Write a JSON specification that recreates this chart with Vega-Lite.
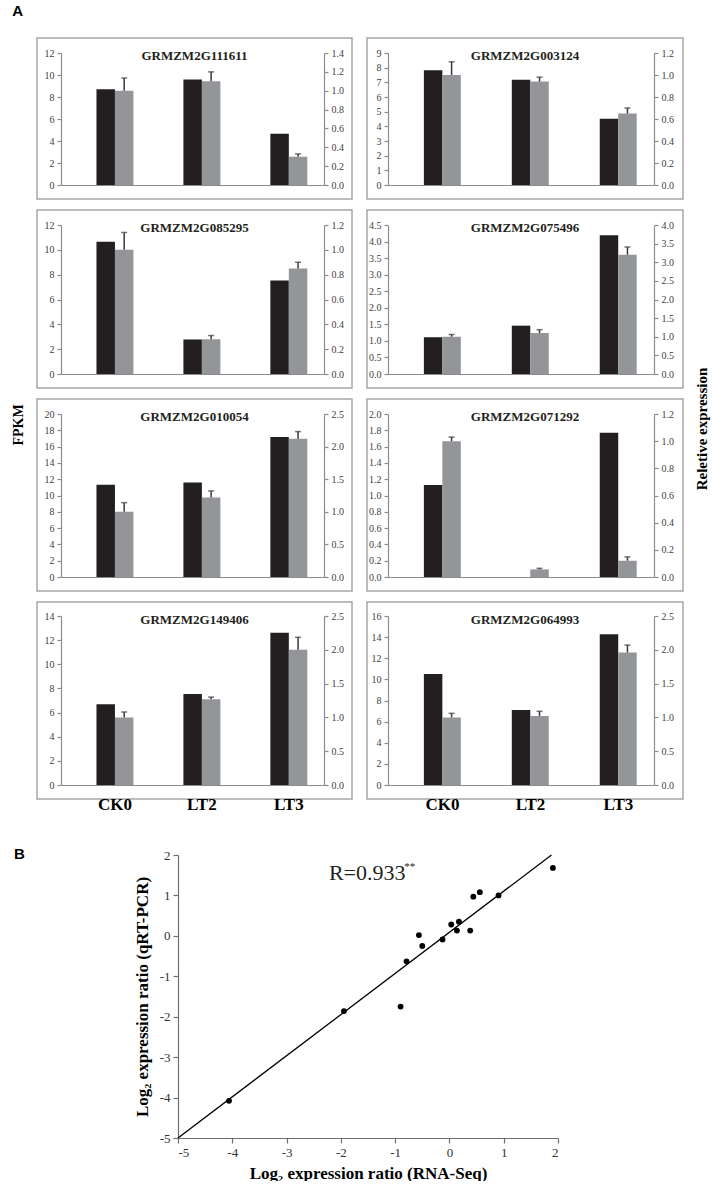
{
"$schema":"https://vega.github.io/schema/vega-lite/v6.json",
"background":"white",
"padding":{"left":12,"top":4,"right":0,"bottom":0},
"config":{"view":{"stroke":null},"font":"Liberation Serif",
"axis":{"domainColor":"#8c8c8c","tickColor":"#8c8c8c","tickSize":4,"labelColor":"#404040","labelFont":"Liberation Serif","labelFontSize":10,"grid":false,"titleFont":"Liberation Serif","domainWidth":1.2,"tickWidth":1.2,"labelPadding":3,"labelOverlap":false,"labelAngle":0},
"title":{"font":"Liberation Serif","fontSize":13,"fontWeight":"bold","color":"#231f20"}},
"datasets":{
"bars":[
{"gene":"GRMZM2G111611","group":"CK0","fpkm":8.7,"rel":1.0,"relHi":1.135},
{"gene":"GRMZM2G111611","group":"LT2","fpkm":9.6,"rel":1.1,"relHi":1.2},
{"gene":"GRMZM2G111611","group":"LT3","fpkm":4.65,"rel":0.3,"relHi":0.33},
{"gene":"GRMZM2G003124","group":"CK0","fpkm":7.82,"rel":1.0,"relHi":1.12},
{"gene":"GRMZM2G003124","group":"LT2","fpkm":7.18,"rel":0.94,"relHi":0.98},
{"gene":"GRMZM2G003124","group":"LT3","fpkm":4.52,"rel":0.65,"relHi":0.7},
{"gene":"GRMZM2G085295","group":"CK0","fpkm":10.65,"rel":1.0,"relHi":1.14},
{"gene":"GRMZM2G085295","group":"LT2","fpkm":2.78,"rel":0.28,"relHi":0.31},
{"gene":"GRMZM2G085295","group":"LT3","fpkm":7.54,"rel":0.85,"relHi":0.9},
{"gene":"GRMZM2G075496","group":"CK0","fpkm":1.11,"rel":1.0,"relHi":1.06},
{"gene":"GRMZM2G075496","group":"LT2","fpkm":1.46,"rel":1.1,"relHi":1.19},
{"gene":"GRMZM2G075496","group":"LT3","fpkm":4.19,"rel":3.2,"relHi":3.41},
{"gene":"GRMZM2G010054","group":"CK0","fpkm":11.33,"rel":1.0,"relHi":1.14},
{"gene":"GRMZM2G010054","group":"LT2","fpkm":11.6,"rel":1.22,"relHi":1.32},
{"gene":"GRMZM2G010054","group":"LT3","fpkm":17.19,"rel":2.12,"relHi":2.23},
{"gene":"GRMZM2G071292","group":"CK0","fpkm":1.13,"rel":1.0,"relHi":1.03},
{"gene":"GRMZM2G071292","group":"LT2","fpkm":0,"rel":0.056,"relHi":0.064},
{"gene":"GRMZM2G071292","group":"LT3","fpkm":1.77,"rel":0.12,"relHi":0.148},
{"gene":"GRMZM2G149406","group":"CK0","fpkm":6.69,"rel":1.0,"relHi":1.08},
{"gene":"GRMZM2G149406","group":"LT2","fpkm":7.54,"rel":1.27,"relHi":1.3},
{"gene":"GRMZM2G149406","group":"LT3","fpkm":12.62,"rel":2.0,"relHi":2.185},
{"gene":"GRMZM2G064993","group":"CK0","fpkm":10.51,"rel":1.0,"relHi":1.06},
{"gene":"GRMZM2G064993","group":"LT2","fpkm":7.1,"rel":1.02,"relHi":1.09},
{"gene":"GRMZM2G064993","group":"LT3","fpkm":14.27,"rel":1.96,"relHi":2.07}
],
"scatter":[
{"rnaseq":1.906,"qpcr":1.68},{"rnaseq":0.905,"qpcr":1.0},{"rnaseq":0.56,"qpcr":1.08},{"rnaseq":0.44,"qpcr":0.97},
{"rnaseq":0.383,"qpcr":0.13},{"rnaseq":0.175,"qpcr":0.35},{"rnaseq":0.138,"qpcr":0.13},{"rnaseq":0.033,"qpcr":0.28},
{"rnaseq":-0.127,"qpcr":-0.09},{"rnaseq":-0.5,"qpcr":-0.25},{"rnaseq":-0.562,"qpcr":0.02},{"rnaseq":-0.79,"qpcr":-0.63},
{"rnaseq":-0.9,"qpcr":-1.75},{"rnaseq":-1.943,"qpcr":-1.86},{"rnaseq":-4.06,"qpcr":-4.08}
],
"fit":[{"rnaseq":-5,"qpcr":-5},{"rnaseq":1.88,"qpcr":2}]
},
"spacing":27,
"vconcat":[
{"title":{"text":"A","anchor":"start","frame":"bounds","font":"Liberation Sans","fontSize":15,"fontWeight":"bold","color":"black","offset":18},
"vconcat":[
{"spacing":10,
"hconcat":[
{"title":{"text":"FPKM","orient":"left","anchor":"middle","fontSize":14,"fontWeight":"bold","color":"black","offset":10},
"spacing":9,
"vconcat":[
{"spacing":13,"hconcat":[
{"width":315,"height":161,"view":{"stroke":"#a6a6a6","strokeWidth":1.5},
"data":{"name":"bars"},"transform":[{"filter":{"field":"gene","equal":"GRMZM2G111611"}}],
"title":{"text":"GRMZM2G111611","offset":-35,"baseline":"alphabetic"},
"encoding":{"x":{"field":"group","type":"nominal","scale":{"domain":["CK0","LT2","LT3"],"range":[24,287],"paddingInner":0.575,"paddingOuter":0.3,"align":0.68},"axis":{"offset":-14,"labels":false,"ticks":false,"title":null}}},
"layer":[
{"mark":{"type":"bar","color":"#231f20"},"encoding":{"xOffset":{"datum":"FPKM","type":"nominal","scale":{"domain":["FPKM","qPCR"]}},
"y":{"field":"fpkm","type":"quantitative","scale":{"domain":[0,12],"range":[147,15],"nice":false},"axis":{"orient":"left","offset":-24,"values":[0,2,4,6,8,10,12],"format":"d","title":null}}}},
{"encoding":{"xOffset":{"datum":"qPCR","type":"nominal","scale":{"domain":["FPKM","qPCR"]}}},
"layer":[
{"mark":{"type":"bar","color":"#939598"},"encoding":{"y":{"field":"rel","type":"quantitative","scale":{"domain":[0,1.4],"range":[147,15],"nice":false},"axis":{"orient":"right","offset":-28,"values":[0,0.2,0.4,0.6,0.8,1.0,1.2,1.4],"format":".1f","title":null}}}},
{"mark":{"type":"rule","color":"#3a3a3a","strokeWidth":1.5},"encoding":{"y":{"field":"rel","type":"quantitative","scale":{"domain":[0,1.4],"range":[147,15],"nice":false},"axis":{"orient":"right","offset":-28,"values":[0,0.2,0.4,0.6,0.8,1.0,1.2,1.4],"format":".1f","title":null}},"y2":{"field":"relHi"}}},
{"mark":{"type":"tick","orient":"horizontal","color":"#3a3a3a","size":6,"thickness":1.5},"encoding":{"y":{"field":"relHi","type":"quantitative","scale":{"domain":[0,1.4],"range":[147,15],"nice":false},"axis":{"orient":"right","offset":-28,"values":[0,0.2,0.4,0.6,0.8,1.0,1.2,1.4],"format":".1f","title":null}}}}
]}],
"resolve":{"scale":{"y":"independent"}}},
{"width":316,"height":161,"view":{"stroke":"#a6a6a6","strokeWidth":1.5},
"data":{"name":"bars"},"transform":[{"filter":{"field":"gene","equal":"GRMZM2G003124"}}],
"title":{"text":"GRMZM2G003124","offset":-35,"baseline":"alphabetic"},
"encoding":{"x":{"field":"group","type":"nominal","scale":{"domain":["CK0","LT2","LT3"],"range":[21,287],"paddingInner":0.575,"paddingOuter":0.3,"align":0.68},"axis":{"offset":-14,"labels":false,"ticks":false,"title":null}}},
"layer":[
{"mark":{"type":"bar","color":"#231f20"},"encoding":{"xOffset":{"datum":"FPKM","type":"nominal","scale":{"domain":["FPKM","qPCR"]}},
"y":{"field":"fpkm","type":"quantitative","scale":{"domain":[0,9],"range":[147,15],"nice":false},"axis":{"orient":"left","offset":-21,"values":[0,1,2,3,4,5,6,7,8,9],"format":"d","title":null}}}},
{"encoding":{"xOffset":{"datum":"qPCR","type":"nominal","scale":{"domain":["FPKM","qPCR"]}}},
"layer":[
{"mark":{"type":"bar","color":"#939598"},"encoding":{"y":{"field":"rel","type":"quantitative","scale":{"domain":[0,1.2],"range":[147,15],"nice":false},"axis":{"orient":"right","offset":-29,"values":[0,0.2,0.4,0.6,0.8,1.0,1.2],"format":".1f","title":null}}}},
{"mark":{"type":"rule","color":"#3a3a3a","strokeWidth":1.5},"encoding":{"y":{"field":"rel","type":"quantitative","scale":{"domain":[0,1.2],"range":[147,15],"nice":false},"axis":{"orient":"right","offset":-29,"values":[0,0.2,0.4,0.6,0.8,1.0,1.2],"format":".1f","title":null}},"y2":{"field":"relHi"}}},
{"mark":{"type":"tick","orient":"horizontal","color":"#3a3a3a","size":6,"thickness":1.5},"encoding":{"y":{"field":"relHi","type":"quantitative","scale":{"domain":[0,1.2],"range":[147,15],"nice":false},"axis":{"orient":"right","offset":-29,"values":[0,0.2,0.4,0.6,0.8,1.0,1.2],"format":".1f","title":null}}}}
]}],
"resolve":{"scale":{"y":"independent"}}}
]},
{"spacing":13,"hconcat":[
{"width":315,"height":178,"view":{"stroke":"#a6a6a6","strokeWidth":1.5},
"data":{"name":"bars"},"transform":[{"filter":{"field":"gene","equal":"GRMZM2G085295"}}],
"title":{"text":"GRMZM2G085295","offset":-35,"baseline":"alphabetic"},
"encoding":{"x":{"field":"group","type":"nominal","scale":{"domain":["CK0","LT2","LT3"],"range":[24,287],"paddingInner":0.575,"paddingOuter":0.3,"align":0.68},"axis":{"offset":-14,"labels":false,"ticks":false,"title":null}}},
"layer":[
{"mark":{"type":"bar","color":"#231f20"},"encoding":{"xOffset":{"datum":"FPKM","type":"nominal","scale":{"domain":["FPKM","qPCR"]}},
"y":{"field":"fpkm","type":"quantitative","scale":{"domain":[0,12],"range":[164,15],"nice":false},"axis":{"orient":"left","offset":-24,"values":[0,2,4,6,8,10,12],"format":"d","title":null}}}},
{"encoding":{"xOffset":{"datum":"qPCR","type":"nominal","scale":{"domain":["FPKM","qPCR"]}}},
"layer":[
{"mark":{"type":"bar","color":"#939598"},"encoding":{"y":{"field":"rel","type":"quantitative","scale":{"domain":[0,1.2],"range":[164,15],"nice":false},"axis":{"orient":"right","offset":-28,"values":[0,0.2,0.4,0.6,0.8,1.0,1.2],"format":".1f","title":null}}}},
{"mark":{"type":"rule","color":"#3a3a3a","strokeWidth":1.5},"encoding":{"y":{"field":"rel","type":"quantitative","scale":{"domain":[0,1.2],"range":[164,15],"nice":false},"axis":{"orient":"right","offset":-28,"values":[0,0.2,0.4,0.6,0.8,1.0,1.2],"format":".1f","title":null}},"y2":{"field":"relHi"}}},
{"mark":{"type":"tick","orient":"horizontal","color":"#3a3a3a","size":6,"thickness":1.5},"encoding":{"y":{"field":"relHi","type":"quantitative","scale":{"domain":[0,1.2],"range":[164,15],"nice":false},"axis":{"orient":"right","offset":-28,"values":[0,0.2,0.4,0.6,0.8,1.0,1.2],"format":".1f","title":null}}}}
]}],
"resolve":{"scale":{"y":"independent"}}},
{"width":316,"height":178,"view":{"stroke":"#a6a6a6","strokeWidth":1.5},
"data":{"name":"bars"},"transform":[{"filter":{"field":"gene","equal":"GRMZM2G075496"}}],
"title":{"text":"GRMZM2G075496","offset":-35,"baseline":"alphabetic"},
"encoding":{"x":{"field":"group","type":"nominal","scale":{"domain":["CK0","LT2","LT3"],"range":[21,287],"paddingInner":0.575,"paddingOuter":0.3,"align":0.68},"axis":{"offset":-14,"labels":false,"ticks":false,"title":null}}},
"layer":[
{"mark":{"type":"bar","color":"#231f20"},"encoding":{"xOffset":{"datum":"FPKM","type":"nominal","scale":{"domain":["FPKM","qPCR"]}},
"y":{"field":"fpkm","type":"quantitative","scale":{"domain":[0,4.5],"range":[164,15],"nice":false},"axis":{"orient":"left","offset":-21,"values":[0,0.5,1.0,1.5,2.0,2.5,3.0,3.5,4.0,4.5],"format":".1f","title":null}}}},
{"encoding":{"xOffset":{"datum":"qPCR","type":"nominal","scale":{"domain":["FPKM","qPCR"]}}},
"layer":[
{"mark":{"type":"bar","color":"#939598"},"encoding":{"y":{"field":"rel","type":"quantitative","scale":{"domain":[0,4],"range":[164,15],"nice":false},"axis":{"orient":"right","offset":-29,"values":[0,0.5,1.0,1.5,2.0,2.5,3.0,3.5,4.0],"format":".1f","title":null}}}},
{"mark":{"type":"rule","color":"#3a3a3a","strokeWidth":1.5},"encoding":{"y":{"field":"rel","type":"quantitative","scale":{"domain":[0,4],"range":[164,15],"nice":false},"axis":{"orient":"right","offset":-29,"values":[0,0.5,1.0,1.5,2.0,2.5,3.0,3.5,4.0],"format":".1f","title":null}},"y2":{"field":"relHi"}}},
{"mark":{"type":"tick","orient":"horizontal","color":"#3a3a3a","size":6,"thickness":1.5},"encoding":{"y":{"field":"relHi","type":"quantitative","scale":{"domain":[0,4],"range":[164,15],"nice":false},"axis":{"orient":"right","offset":-29,"values":[0,0.5,1.0,1.5,2.0,2.5,3.0,3.5,4.0],"format":".1f","title":null}}}}
]}],
"resolve":{"scale":{"y":"independent"}}}
]},
{"spacing":13,"hconcat":[
{"width":315,"height":192,"view":{"stroke":"#a6a6a6","strokeWidth":1.5},
"data":{"name":"bars"},"transform":[{"filter":{"field":"gene","equal":"GRMZM2G010054"}}],
"title":{"text":"GRMZM2G010054","offset":-35,"baseline":"alphabetic"},
"encoding":{"x":{"field":"group","type":"nominal","scale":{"domain":["CK0","LT2","LT3"],"range":[24,287],"paddingInner":0.575,"paddingOuter":0.3,"align":0.68},"axis":{"offset":-14,"labels":false,"ticks":false,"title":null}}},
"layer":[
{"mark":{"type":"bar","color":"#231f20"},"encoding":{"xOffset":{"datum":"FPKM","type":"nominal","scale":{"domain":["FPKM","qPCR"]}},
"y":{"field":"fpkm","type":"quantitative","scale":{"domain":[0,20],"range":[178,15],"nice":false},"axis":{"orient":"left","offset":-24,"values":[0,2,4,6,8,10,12,14,16,18,20],"format":"d","title":null}}}},
{"encoding":{"xOffset":{"datum":"qPCR","type":"nominal","scale":{"domain":["FPKM","qPCR"]}}},
"layer":[
{"mark":{"type":"bar","color":"#939598"},"encoding":{"y":{"field":"rel","type":"quantitative","scale":{"domain":[0,2.5],"range":[178,15],"nice":false},"axis":{"orient":"right","offset":-28,"values":[0,0.5,1.0,1.5,2.0,2.5],"format":".1f","title":null}}}},
{"mark":{"type":"rule","color":"#3a3a3a","strokeWidth":1.5},"encoding":{"y":{"field":"rel","type":"quantitative","scale":{"domain":[0,2.5],"range":[178,15],"nice":false},"axis":{"orient":"right","offset":-28,"values":[0,0.5,1.0,1.5,2.0,2.5],"format":".1f","title":null}},"y2":{"field":"relHi"}}},
{"mark":{"type":"tick","orient":"horizontal","color":"#3a3a3a","size":6,"thickness":1.5},"encoding":{"y":{"field":"relHi","type":"quantitative","scale":{"domain":[0,2.5],"range":[178,15],"nice":false},"axis":{"orient":"right","offset":-28,"values":[0,0.5,1.0,1.5,2.0,2.5],"format":".1f","title":null}}}}
]}],
"resolve":{"scale":{"y":"independent"}}},
{"width":316,"height":192,"view":{"stroke":"#a6a6a6","strokeWidth":1.5},
"data":{"name":"bars"},"transform":[{"filter":{"field":"gene","equal":"GRMZM2G071292"}}],
"title":{"text":"GRMZM2G071292","offset":-35,"baseline":"alphabetic"},
"encoding":{"x":{"field":"group","type":"nominal","scale":{"domain":["CK0","LT2","LT3"],"range":[21,287],"paddingInner":0.575,"paddingOuter":0.3,"align":0.68},"axis":{"offset":-14,"labels":false,"ticks":false,"title":null}}},
"layer":[
{"mark":{"type":"bar","color":"#231f20"},"encoding":{"xOffset":{"datum":"FPKM","type":"nominal","scale":{"domain":["FPKM","qPCR"]}},
"y":{"field":"fpkm","type":"quantitative","scale":{"domain":[0,2],"range":[178,15],"nice":false},"axis":{"orient":"left","offset":-21,"values":[0,0.2,0.4,0.6,0.8,1.0,1.2,1.4,1.6,1.8,2.0],"format":".1f","title":null}}}},
{"encoding":{"xOffset":{"datum":"qPCR","type":"nominal","scale":{"domain":["FPKM","qPCR"]}}},
"layer":[
{"mark":{"type":"bar","color":"#939598"},"encoding":{"y":{"field":"rel","type":"quantitative","scale":{"domain":[0,1.2],"range":[178,15],"nice":false},"axis":{"orient":"right","offset":-29,"values":[0,0.2,0.4,0.6,0.8,1.0,1.2],"format":".1f","title":null}}}},
{"mark":{"type":"rule","color":"#3a3a3a","strokeWidth":1.5},"encoding":{"y":{"field":"rel","type":"quantitative","scale":{"domain":[0,1.2],"range":[178,15],"nice":false},"axis":{"orient":"right","offset":-29,"values":[0,0.2,0.4,0.6,0.8,1.0,1.2],"format":".1f","title":null}},"y2":{"field":"relHi"}}},
{"mark":{"type":"tick","orient":"horizontal","color":"#3a3a3a","size":6,"thickness":1.5},"encoding":{"y":{"field":"relHi","type":"quantitative","scale":{"domain":[0,1.2],"range":[178,15],"nice":false},"axis":{"orient":"right","offset":-29,"values":[0,0.2,0.4,0.6,0.8,1.0,1.2],"format":".1f","title":null}}}}
]}],
"resolve":{"scale":{"y":"independent"}}}
]},
{"spacing":13,"hconcat":[
{"width":315,"height":197,"view":{"stroke":"#a6a6a6","strokeWidth":1.5},
"data":{"name":"bars"},"transform":[{"filter":{"field":"gene","equal":"GRMZM2G149406"}}],
"title":{"text":"GRMZM2G149406","offset":-35,"baseline":"alphabetic"},
"encoding":{"x":{"field":"group","type":"nominal","scale":{"domain":["CK0","LT2","LT3"],"range":[24,287],"paddingInner":0.575,"paddingOuter":0.3,"align":0.68},"axis":{"offset":-14,"labels":true,"ticks":false,"title":null,"labelPadding":11,"labelFontSize":17,"labelFontWeight":"bold","labelColor":"black","labelAngle":0}}},
"layer":[
{"mark":{"type":"bar","color":"#231f20"},"encoding":{"xOffset":{"datum":"FPKM","type":"nominal","scale":{"domain":["FPKM","qPCR"]}},
"y":{"field":"fpkm","type":"quantitative","scale":{"domain":[0,14],"range":[183,14],"nice":false},"axis":{"orient":"left","offset":-24,"values":[0,2,4,6,8,10,12,14],"format":"d","title":null}}}},
{"encoding":{"xOffset":{"datum":"qPCR","type":"nominal","scale":{"domain":["FPKM","qPCR"]}}},
"layer":[
{"mark":{"type":"bar","color":"#939598"},"encoding":{"y":{"field":"rel","type":"quantitative","scale":{"domain":[0,2.5],"range":[183,14],"nice":false},"axis":{"orient":"right","offset":-28,"values":[0,0.5,1.0,1.5,2.0,2.5],"format":".1f","title":null}}}},
{"mark":{"type":"rule","color":"#3a3a3a","strokeWidth":1.5},"encoding":{"y":{"field":"rel","type":"quantitative","scale":{"domain":[0,2.5],"range":[183,14],"nice":false},"axis":{"orient":"right","offset":-28,"values":[0,0.5,1.0,1.5,2.0,2.5],"format":".1f","title":null}},"y2":{"field":"relHi"}}},
{"mark":{"type":"tick","orient":"horizontal","color":"#3a3a3a","size":6,"thickness":1.5},"encoding":{"y":{"field":"relHi","type":"quantitative","scale":{"domain":[0,2.5],"range":[183,14],"nice":false},"axis":{"orient":"right","offset":-28,"values":[0,0.5,1.0,1.5,2.0,2.5],"format":".1f","title":null}}}}
]}],
"resolve":{"scale":{"y":"independent"}}},
{"width":316,"height":197,"view":{"stroke":"#a6a6a6","strokeWidth":1.5},
"data":{"name":"bars"},"transform":[{"filter":{"field":"gene","equal":"GRMZM2G064993"}}],
"title":{"text":"GRMZM2G064993","offset":-35,"baseline":"alphabetic"},
"encoding":{"x":{"field":"group","type":"nominal","scale":{"domain":["CK0","LT2","LT3"],"range":[21,287],"paddingInner":0.575,"paddingOuter":0.3,"align":0.68},"axis":{"offset":-14,"labels":true,"ticks":false,"title":null,"labelPadding":11,"labelFontSize":17,"labelFontWeight":"bold","labelColor":"black","labelAngle":0}}},
"layer":[
{"mark":{"type":"bar","color":"#231f20"},"encoding":{"xOffset":{"datum":"FPKM","type":"nominal","scale":{"domain":["FPKM","qPCR"]}},
"y":{"field":"fpkm","type":"quantitative","scale":{"domain":[0,16],"range":[183,14],"nice":false},"axis":{"orient":"left","offset":-21,"values":[0,2,4,6,8,10,12,14,16],"format":"d","title":null}}}},
{"encoding":{"xOffset":{"datum":"qPCR","type":"nominal","scale":{"domain":["FPKM","qPCR"]}}},
"layer":[
{"mark":{"type":"bar","color":"#939598"},"encoding":{"y":{"field":"rel","type":"quantitative","scale":{"domain":[0,2.5],"range":[183,14],"nice":false},"axis":{"orient":"right","offset":-29,"values":[0,0.5,1.0,1.5,2.0,2.5],"format":".1f","title":null}}}},
{"mark":{"type":"rule","color":"#3a3a3a","strokeWidth":1.5},"encoding":{"y":{"field":"rel","type":"quantitative","scale":{"domain":[0,2.5],"range":[183,14],"nice":false},"axis":{"orient":"right","offset":-29,"values":[0,0.5,1.0,1.5,2.0,2.5],"format":".1f","title":null}},"y2":{"field":"relHi"}}},
{"mark":{"type":"tick","orient":"horizontal","color":"#3a3a3a","size":6,"thickness":1.5},"encoding":{"y":{"field":"relHi","type":"quantitative","scale":{"domain":[0,2.5],"range":[183,14],"nice":false},"axis":{"orient":"right","offset":-29,"values":[0,0.5,1.0,1.5,2.0,2.5],"format":".1f","title":null}}}}
]}],
"resolve":{"scale":{"y":"independent"}}}
]}
]},
{"width":1,"height":782,"data":{"values":[]},"mark":"point",
"title":{"text":"Reletive expression","orient":"left","anchor":"middle","fontSize":15,"fontWeight":"bold","color":"black","offset":2}}
]}
]},
{"title":{"text":"B","anchor":"start","frame":"bounds","font":"Liberation Sans","fontSize":15,"fontWeight":"bold","color":"black","offset":-13,"dx":-23},
"width":645,"height":283,
"layer":[
{"data":{"name":"fit"},"mark":{"type":"line","color":"black","strokeWidth":1.3},
"encoding":{"x":{"field":"rnaseq","type":"quantitative","scale":{"domain":[-5,2],"range":[141,521],"nice":false,"zero":false},
"axis":{"values":[-5,-4,-3,-2,-1,0,1,2],"labelExpr":"datum.value","tickSize":5,"labelFontSize":13,"labelColor":"#333333","domainColor":"#6e6e6e","tickColor":"#6e6e6e","title":"Log₂ expression ratio (RNA-Seq)","titleFontSize":17,"titleFontWeight":"bold","titleColor":"black","titlePadding":6}},
"y":{"field":"qpcr","type":"quantitative","scale":{"domain":[-5,2],"nice":false,"zero":false},
"axis":{"offset":-141,"values":[-5,-4,-3,-2,-1,0,1,2],"labelExpr":"datum.value","tickSize":5,"labelFontSize":13,"labelColor":"#333333","domainColor":"#6e6e6e","tickColor":"#6e6e6e","title":"Log₂ expression ratio (qRT-PCR)","titleFontSize":17,"titleFontWeight":"bold","titleColor":"black","titlePadding":8}}}},
{"data":{"name":"scatter"},"mark":{"type":"circle","color":"black","size":34,"opacity":1},
"encoding":{"x":{"field":"rnaseq","type":"quantitative"},"y":{"field":"qpcr","type":"quantitative"}}},
{"data":{"values":[{}]},"mark":{"type":"text","text":"R=0.933","font":"Liberation Serif","fontSize":22,"align":"left","baseline":"alphabetic","color":"#231f20"},
"encoding":{"x":{"datum":-2.22},"y":{"datum":1.37}}},
{"data":{"values":[{}]},"mark":{"type":"text","text":"**","font":"Liberation Serif","fontSize":11,"align":"left","baseline":"alphabetic","color":"#231f20"},
"encoding":{"x":{"datum":-0.83},"y":{"datum":1.62}}}
]}
]
}
